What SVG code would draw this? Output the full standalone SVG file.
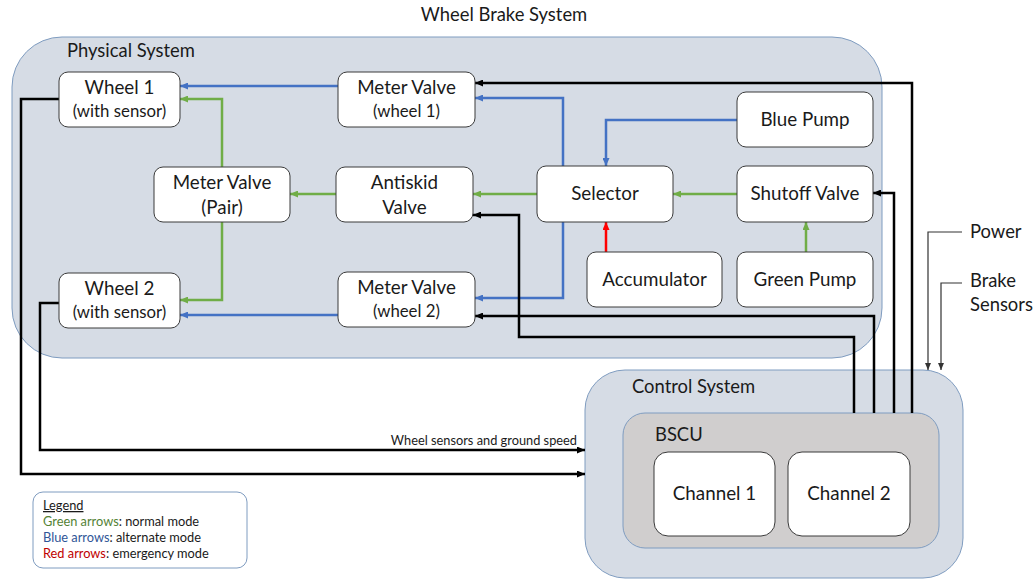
<svg xmlns="http://www.w3.org/2000/svg" width="1036" height="580" viewBox="0 0 1036 580">
<style>
text{font-family:Lato,"Open Sans","Liberation Sans",sans-serif;fill:#1a1a1a}
.node{fill:#fff;stroke:#3a3a3a;stroke-width:1}
.t17{font-size:18.8px;text-anchor:middle}
.t15{font-size:16.8px;text-anchor:middle}
.lbl{font-size:18.4px}
.g{fill:none;stroke:#70ad47;stroke-width:2.5}
.b{fill:none;stroke:#4472c4;stroke-width:2.5}
.r{fill:none;stroke:#ff0000;stroke-width:2.5}
.k{fill:none;stroke:#000;stroke-width:2.5}
.thin{fill:none;stroke:#333;stroke-width:1.2}
.leg{font-size:12.8px}
</style>
<defs>
<marker id="ag" markerUnits="userSpaceOnUse" markerWidth="8" markerHeight="7" refX="8" refY="3.5" orient="auto"><path d="M0,0 L8,3.5 L0,7z" fill="#70ad47"/></marker>
<marker id="ab" markerUnits="userSpaceOnUse" markerWidth="8" markerHeight="7" refX="8" refY="3.5" orient="auto"><path d="M0,0 L8,3.5 L0,7z" fill="#4472c4"/></marker>
<marker id="ar" markerUnits="userSpaceOnUse" markerWidth="8" markerHeight="7" refX="8" refY="3.5" orient="auto"><path d="M0,0 L8,3.5 L0,7z" fill="#ff0000"/></marker>
<marker id="ak" markerUnits="userSpaceOnUse" markerWidth="8" markerHeight="7" refX="8" refY="3.5" orient="auto"><path d="M0,0 L8,3.5 L0,7z" fill="#000"/></marker>
<marker id="at" markerUnits="userSpaceOnUse" markerWidth="7" markerHeight="6" refX="7" refY="3" orient="auto"><path d="M0,0 L7,3 L0,6z" fill="#333"/></marker>
</defs>
<rect width="1036" height="580" fill="#fff"/>
<text x="504" y="21" style="font-size:18.4px;text-anchor:middle">Wheel Brake System</text>

<g id="physical-system">
<rect x="12" y="37" width="870" height="321" rx="50" fill="#d6dce5" stroke="#7f9cc0" stroke-width="1"/>
<text x="67" y="57" class="lbl">Physical System</text>
</g>
<g id="control-system">
<rect x="585" y="370" width="378" height="208" rx="40" fill="#d6dce5" stroke="#7f9cc0" stroke-width="1"/>
<text x="632" y="393" class="lbl">Control System</text>
</g>
<g id="bscu">
<rect x="623" y="413" width="316" height="135" rx="22" fill="#d0cece" stroke="#7f9cc0" stroke-width="1"/>
<text x="655" y="441" class="lbl">BSCU</text>
</g>
<g id="channel1"><rect class="node" x="654" y="452" width="121" height="84" rx="14"/><text x="714.5" y="500" class="t17">Channel 1</text></g>
<g id="channel2"><rect class="node" x="788" y="452" width="122" height="84" rx="14"/><text x="849" y="500" class="t17">Channel 2</text></g>

<g id="connectors">
<!-- blue -->
<path class="b" d="M338,86 H180" marker-end="url(#ab)"/>
<path class="b" d="M338,315 H180" marker-end="url(#ab)"/>
<path class="b" d="M563,166 V98 H475" marker-end="url(#ab)"/>
<path class="b" d="M563,222 V298 H475" marker-end="url(#ab)"/>
<path class="b" d="M737,120 H606 V166" marker-end="url(#ab)"/>
<!-- green -->
<path class="g" d="M222,167 V99 H180" marker-end="url(#ag)"/>
<path class="g" d="M222,222 V300 H180" marker-end="url(#ag)"/>
<path class="g" d="M336,194 H290" marker-end="url(#ag)"/>
<path class="g" d="M537,194 H473" marker-end="url(#ag)"/>
<path class="g" d="M737,194 H673" marker-end="url(#ag)"/>
<path class="g" d="M806,252 V222" marker-end="url(#ag)"/>
<!-- red -->
<path class="r" d="M606,252 V222" marker-end="url(#ar)"/>
<!-- black -->
<path class="k" d="M912,413 V83 H475" marker-end="url(#ak)"/>
<path class="k" d="M894,413 V193 H873" marker-end="url(#ak)"/>
<path class="k" d="M874,413 V316 H475" marker-end="url(#ak)"/>
<path class="k" d="M854,413 V337 H519 V215 H473" marker-end="url(#ak)"/>
<path class="k" d="M59,99 H21 V474 H585" marker-end="url(#ak)"/>
<path class="k" d="M59,303 H40 V450 H585" marker-end="url(#ak)"/>
<!-- thin inputs -->
<path class="thin" d="M962,232 H928 V370" marker-end="url(#at)"/>
<path class="thin" d="M962,283 H941 V370" marker-end="url(#at)"/>
<text x="577" y="445" style="font-size:12.8px;text-anchor:end">Wheel sensors and ground speed</text>
<text x="970" y="238" class="lbl">Power</text>
<text x="970" y="287" class="lbl">Brake</text>
<text x="970" y="311" class="lbl">Sensors</text>
</g>

<g id="wheel1"><rect class="node" x="59" y="72" width="121" height="55" rx="9"/><text x="119.5" y="94" class="t17">Wheel 1</text><text x="119.5" y="117" class="t15">(with sensor)</text></g>
<g id="wheel2"><rect class="node" x="59" y="273" width="121" height="55" rx="9"/><text x="119.5" y="295" class="t17">Wheel 2</text><text x="119.5" y="318" class="t15">(with sensor)</text></g>
<g id="meter-valve-pair"><rect class="node" x="154" y="167" width="136" height="55" rx="9"/><text x="222" y="189" class="t17">Meter Valve</text><text x="222" y="214" class="t17">(Pair)</text></g>
<g id="meter-valve-wheel1"><rect class="node" x="338" y="72" width="137" height="55" rx="9"/><text x="406.5" y="94" class="t17">Meter Valve</text><text x="406.5" y="117" class="t15">(wheel 1)</text></g>
<g id="antiskid-valve"><rect class="node" x="336" y="167" width="137" height="55" rx="9"/><text x="404.5" y="189" class="t17">Antiskid</text><text x="404.5" y="214" class="t17">Valve</text></g>
<g id="meter-valve-wheel2"><rect class="node" x="338" y="272" width="137" height="55" rx="9"/><text x="406.5" y="294" class="t17">Meter Valve</text><text x="406.5" y="317" class="t15">(wheel 2)</text></g>
<g id="selector"><rect class="node" x="537" y="166" width="136" height="56" rx="9"/><text x="605" y="200" class="t17">Selector</text></g>
<g id="blue-pump"><rect class="node" x="737" y="92" width="136" height="55" rx="9"/><text x="805" y="126" class="t17">Blue Pump</text></g>
<g id="shutoff-valve"><rect class="node" x="737" y="166" width="136" height="56" rx="9"/><text x="805" y="200" class="t17">Shutoff Valve</text></g>
<g id="accumulator"><rect class="node" x="587" y="252" width="135" height="55" rx="9"/><text x="654.5" y="286" class="t17">Accumulator</text></g>
<g id="green-pump"><rect class="node" x="737" y="252" width="136" height="55" rx="9"/><text x="805" y="286" class="t17">Green Pump</text></g>

<g id="legend">
<rect x="33" y="492" width="214" height="76" rx="10" fill="#fff" stroke="#7f9cc0" stroke-width="1"/>
<text x="43" y="510" class="leg" text-decoration="underline">Legend</text>
<text x="43" y="526" class="leg"><tspan fill="#548235">Green arrows</tspan>: normal mode</text>
<text x="43" y="542" class="leg"><tspan fill="#2f5597">Blue arrows</tspan>: alternate mode</text>
<text x="43" y="558" class="leg"><tspan fill="#c00000">Red arrows</tspan>: emergency mode</text>
</g>
</svg>
